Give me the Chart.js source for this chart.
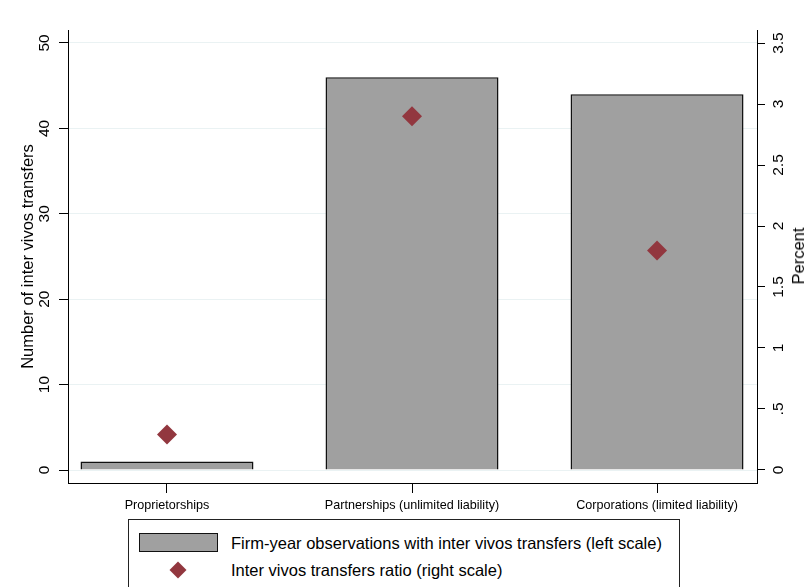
<!DOCTYPE html>
<html>
<head>
<meta charset="utf-8">
<script src="https://cdn.jsdelivr.net/npm/chart.js@4.4.1/dist/chart.umd.min.js"></script>
<style>
html,body{margin:0;padding:0;background:#fff;}
#wrap{position:relative;width:810px;height:587px;overflow:hidden;font-family:"Liberation Sans",Arial,sans-serif;color:#000;}
#c{position:absolute;left:0;top:0;}
#rtitle{position:absolute;left:798px;top:256px;transform:translate(-50%,-50%) rotate(-90deg);font-size:16.5px;line-height:20px;white-space:nowrap;}
#legend{position:absolute;left:128px;top:519px;width:550px;height:90px;border:1px solid #222;background:#fff;}
#legend .sw{position:absolute;left:10px;top:13px;width:79px;height:19px;box-sizing:border-box;background:#a0a0a0;border:1px solid #111;}
#legend .dm{position:absolute;left:43px;top:44px;width:12px;height:12px;background:#92373f;transform:rotate(45deg);}
#legend .tx{position:absolute;left:102px;font-size:16.5px;line-height:20px;white-space:nowrap;}
</style>
</head>
<body>
<div id="wrap">
  <canvas id="c" width="810" height="587"></canvas>
  <div id="rtitle">Percent</div>
  <div id="legend">
    <div class="sw"></div>
    <div class="tx" style="top:13px">Firm-year observations with inter vivos transfers (left scale)</div>
    <div class="dm"></div>
    <div class="tx" style="top:40px">Inter vivos transfers ratio (right scale)</div>
  </div>
</div>
<script>
// ---- data ----
const categories = ["Proprietorships", "Partnerships (unlimited liability)", "Corporations (limited liability)"];
const transferCounts = [1, 46, 44];          // left scale
const transferRatio = [0.29, 2.9, 1.8];       // right scale, percent
const leftTicks = [0, 10, 20, 30, 40, 50];
const rightTicks = [0, 0.5, 1, 1.5, 2, 2.5, 3, 3.5];
const rightTickLabels = ["0", ".5", "1", "1.5", "2", "2.5", "3", "3.5"];
const legendLabels = ["Firm-year observations with inter vivos transfers (left scale)", "Inter vivos transfers ratio (right scale)"];

const FONT = '"Liberation Sans", Arial, sans-serif';

new Chart(document.getElementById('c'), {
  data: {
    datasets: [
      {
        type: 'scatter',
        label: legendLabels[1],
        data: categories.map((c, i) => ({ x: i, y: transferRatio[i] })),
        yAxisID: 'y1',
        xAxisID: 'x',
        pointStyle: 'rectRot',
        pointRadius: 10,
        pointHoverRadius: 10,
        backgroundColor: '#92373f',
        borderColor: '#92373f',
        borderWidth: 0,
        showLine: false,
        order: 0
      },
      {
        type: 'bar',
        label: legendLabels[0],
        data: categories.map((c, i) => ({ x: i, y: transferCounts[i] })),
        yAxisID: 'y',
        xAxisID: 'x',
        backgroundColor: '#a0a0a0',
        borderColor: '#111111',
        borderWidth: 1.5,
        categoryPercentage: 1,
        barPercentage: 0.706,
        order: 1
      }
    ]
  },
  options: {
    responsive: false,
    animation: false,
    layout: { padding: { top: 30, bottom: 69, left: 0, right: 0 } },
    plugins: { legend: { display: false }, tooltip: { enabled: false } },
    scales: {
      x: {
        type: 'linear',
        position: 'bottom',
        offset: false,
        min: -0.404,
        max: 2.408,
        afterBuildTicks: (s) => { s.ticks = categories.map((c, i) => ({ value: i })); },
        afterFit: (s) => { s.height = 35; },
        ticks: {
          autoSkip: false,
          maxRotation: 0,
          minRotation: 0,
          padding: 5,
          color: '#000',
          font: { family: FONT, size: 12.6 },
          callback: (v) => categories[v]
        },
        grid: { offset: false, drawOnChartArea: false, tickLength: 10, tickColor: '#000', tickWidth: 1 },
        border: { display: true, color: '#000', width: 1 }
      },
      y: {
        type: 'linear',
        position: 'left',
        min: -1.52,
        max: 51.52,
        afterBuildTicks: (s) => { s.ticks = leftTicks.map(v => ({ value: v })); },
        afterFit: (s) => { s.width = 68; },
        ticks: {
          autoSkip: false,
          minRotation: 90,
          maxRotation: 90,
          crossAlign: 'center',
          padding: 5.2,
          color: '#000',
          font: { family: FONT, size: 15.5 },
          callback: (v) => String(v)
        },
        grid: { color: '#eaf2f3', lineWidth: 1, tickLength: 9, tickColor: '#000', tickWidth: 1 },
        border: { display: true, color: '#000', width: 1 },
        title: {
          display: true,
          text: 'Number of inter vivos transfers',
          color: '#000',
          font: { family: FONT, size: 16.5 },
          padding: { top: 18.6, bottom: 0 }
        }
      },
      y1: {
        type: 'linear',
        position: 'right',
        min: -0.107,
        max: 3.607,
        afterBuildTicks: (s) => { s.ticks = rightTicks.map(v => ({ value: v })); },
        afterFit: (s) => { s.width = 53; },
        ticks: {
          autoSkip: false,
          minRotation: 90,
          maxRotation: 90,
          crossAlign: 'center',
          padding: 3.3,
          color: '#000',
          font: { family: FONT, size: 15.5 },
          callback: (v) => rightTickLabels[rightTicks.indexOf(v)]
        },
        grid: { drawOnChartArea: false, tickLength: 8, tickColor: '#000', tickWidth: 1 },
        border: { display: true, color: '#000', width: 1 }
      }
    }
  }
});
</script>
</body>
</html>
